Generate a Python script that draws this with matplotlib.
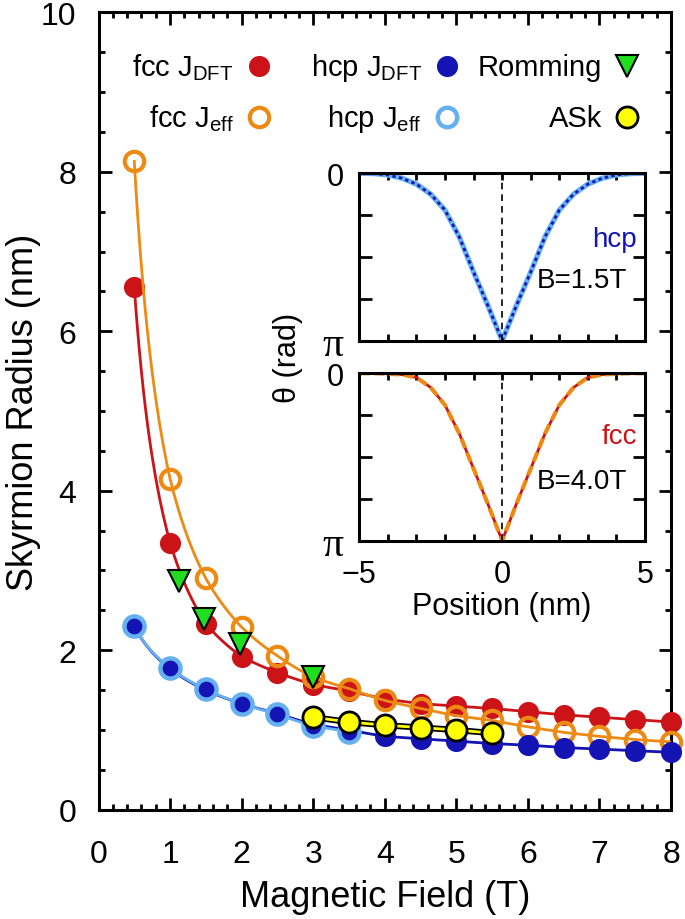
import numpy as np
import matplotlib.pyplot as plt

plt.rcParams['font.family'] = ['Liberation Sans', 'DejaVu Sans']
plt.rcParams['mathtext.fontset'] = 'custom'
plt.rcParams['mathtext.rm'] = 'Liberation Sans'
plt.rcParams['mathtext.it'] = 'Liberation Sans:italic'

# skyrmion radius vs field
field = [0.5, 1.0, 1.5, 2.0, 2.5, 3.0, 3.5, 4.0, 4.5, 5.0, 5.5, 6.0, 6.5, 7.0, 7.5, 8.0]
fcc_dft = [6.55, 3.35, 2.33, 1.92, 1.72, 1.57, 1.49, 1.39, 1.33, 1.30, 1.27, 1.23, 1.19, 1.16, 1.13, 1.10]
fcc_eff = [8.13, 4.15, 2.90, 2.29, 1.93, 1.66, 1.52, 1.37, 1.27, 1.18, 1.12, 1.04, 0.97, 0.92, 0.88, 0.85]
hcp_dft = [2.30, 1.77, 1.50, 1.33, 1.21, 1.07, 1.00, 0.92, 0.89, 0.86, 0.83, 0.81, 0.78, 0.76, 0.74, 0.72]
field_hcp_eff = [0.5, 1.0, 1.5, 2.0, 2.5, 3.0, 3.5]
hcp_eff = [2.30, 1.78, 1.51, 1.33, 1.20, 1.05, 0.98]
field_ask = [3.0, 3.5, 4.0, 4.5, 5.0, 5.5]
ask = [1.16, 1.10, 1.06, 1.03, 1.00, 0.96]
field_romming = [1.12, 1.47, 1.98, 3.0]
romming = [2.87, 2.39, 2.08, 1.67]

# inset profiles, theta in units of pi (left half, mirrored)
pos_half = [-5, -4.5, -4, -3.5, -3, -2.5, -2, -1.5, -1, -0.5, 0]
theta_hcp = [0, 0.002, 0.01, 0.03, 0.065, 0.125, 0.22, 0.38, 0.59, 0.79, 1.0]
theta_fcc = [0, 0.0, 0.003, 0.008, 0.025, 0.085, 0.19, 0.36, 0.57, 0.78, 1.0]

red = '#cc1418'
orange = '#ec8a14'
blue = '#1414b4'
lblue = '#64b0f0'
green = '#1ede1e'
yellow = '#ffff00'


def smooth(x, y, n=300):
    xs = np.linspace(x[0], x[-1], n)
    ys = np.exp(np.interp(np.log(xs), np.log(x), np.log(y)))
    return xs, ys


fig = plt.figure(figsize=(6.85, 9.2), dpi=100)
ax = fig.add_axes([0.1438, 0.1188, 0.8358, 0.8667])

dot = 15.2
ring = 14
ax.plot(*smooth(field, fcc_dft), color=red, lw=2, zorder=2)
ax.plot(field, fcc_dft, 'o', color=red, ms=dot, mew=0, zorder=3, clip_on=False)
ax.plot(*smooth(field, fcc_eff), color=orange, lw=2, zorder=4)
ax.plot(field, fcc_eff, 'o', mfc='none', mec=orange, ms=ring, mew=3, zorder=5, clip_on=False)
ax.plot(*smooth(field, hcp_dft), color=blue, lw=2, zorder=6)
ax.plot(field, hcp_dft, 'o', color=blue, ms=dot, mew=0, zorder=7, clip_on=False)
ax.plot(*smooth(field_hcp_eff, hcp_eff), color=lblue, lw=2, zorder=6.5)
ax.plot(field_hcp_eff, hcp_eff, 'o', mfc='none', mec=lblue, ms=ring + 0.5, mew=3.2, zorder=8)
ax.plot(field_ask, ask, color='black', lw=4.5, zorder=9)
ax.plot(field_ask, ask, color=yellow, lw=2, zorder=9.5)
ax.plot(field_ask, ask, 'o', mfc=yellow, mec='black', ms=dot, mew=2, zorder=10)
ax.plot(field_romming, romming, 'v', mfc=green, mec='black', ms=15.5, mew=1.5, zorder=11)

ax.set_xlim(0, 8)
ax.set_ylim(0, 10)
ax.set_xticks(range(0, 9))
ax.set_xticks(np.arange(0, 8.01, 0.2), minor=True)
ax.set_yticks(range(0, 11, 2))
ax.set_yticks(np.arange(0, 10.01, 0.5), minor=True)
ax.tick_params(which='both', direction='in', top=True, right=True, width=2)
ax.tick_params(which='major', length=9, labelsize=23)
ax.tick_params(which='minor', length=4.5)
ax.tick_params(axis='y', pad=16)
ax.tick_params(axis='x', pad=21)
for s in ax.spines.values():
    s.set_linewidth(2.2)
ax.set_xlabel('Magnetic Field (T)', fontsize=26)
ax.set_ylabel('Skyrmion Radius (nm)', fontsize=26)
ax.xaxis.set_label_coords(0.5, -0.087)
ax.yaxis.set_label_coords(-0.10, 0.5)

# legend drawn by hand so markers line up in columns
cols = [0.2803, 0.6087, 0.9231]
rows = [0.9327, 0.8687]
entries = [
    (cols[0], rows[0], r'fcc J$_{\mathrm{DFT}}$', dict(marker='o', color=red, ms=dot, mew=0)),
    (cols[0], rows[1], r'fcc J$_{\mathrm{eff}}$', dict(marker='o', mfc='none', mec=orange, ms=ring, mew=3)),
    (cols[1], rows[0], r'hcp J$_{\mathrm{DFT}}$', dict(marker='o', color=blue, ms=dot, mew=0)),
    (cols[1], rows[1], r'hcp J$_{\mathrm{eff}}$', dict(marker='o', mfc='none', mec=lblue, ms=ring, mew=3.2)),
    (cols[2], rows[0], 'Romming', dict(marker='v', mfc=green, mec='black', ms=15.5, mew=1.5)),
    (cols[2], rows[1], 'ASk', dict(marker='o', mfc=yellow, mec='black', ms=dot, mew=2)),
]
for xm, ym, label, style in entries:
    ax.plot([xm], [ym], transform=ax.transAxes, linestyle='none', clip_on=False, zorder=12, **style)
    ax.text(xm - 0.044, ym - 0.011, label, transform=ax.transAxes, ha='right', va='baseline', fontsize=21)

# inset panels
ins_top = fig.add_axes([0.5245, 0.6286, 0.4171, 0.1820])
ins_bot = fig.add_axes([0.5245, 0.4112, 0.4171, 0.1820])

pos = np.array(pos_half + [-p for p in pos_half[-2::-1]])
th_hcp = np.pi * np.array(theta_hcp + theta_hcp[-2::-1])
th_fcc = np.pi * np.array(theta_fcc + theta_fcc[-2::-1])

ins_top.plot(pos, th_hcp, color=lblue, lw=3.8)
ins_top.plot(pos, th_hcp, color=blue, lw=2, dashes=(1.2, 1.2))
ins_bot.plot(pos, th_fcc, color=red, lw=2)
ins_bot.plot(pos, th_fcc, color=orange, lw=3, dashes=(2.4, 1.2))

for a in (ins_top, ins_bot):
    a.axvline(0, color='black', lw=1.2, dashes=(4, 3))
    a.set_xlim(-5, 5)
    a.set_ylim(np.pi, 0)
    a.set_xticks([-5, 0, 5])
    a.set_xticks(range(-5, 6), minor=True)
    a.set_yticks(np.arange(5) * np.pi / 4)
    a.set_yticklabels(['0', '', '', '', 'π'])
    a.tick_params(which='both', direction='in', top=True, right=True, width=2, labelsize=22)
    a.tick_params(axis='x', which='both', length=5, pad=13)
    a.tick_params(axis='y', length=9, pad=11)
    for s in a.spines.values():
        s.set_linewidth(2.2)
    pi_label = a.get_yticklabels()[-1]
    pi_label.set_family(['Liberation Serif'])
    pi_label.set_fontsize(30)

ins_top.tick_params(axis='x', labelbottom=False)
ins_bot.set_xticklabels(['\u22125', '0', '5'])
ins_bot.set_xlabel('Position (nm)', fontsize=22)
ins_bot.xaxis.set_label_coords(0.5, -0.30)

ins_top.text(0.972, 0.607, 'hcp', transform=ins_top.transAxes, ha='right', va='center', fontsize=20, color=blue)
ins_top.text(0.937, 0.363, 'B=1.5T', transform=ins_top.transAxes, ha='right', va='center', fontsize=20)
ins_bot.text(0.972, 0.625, 'fcc', transform=ins_bot.transAxes, ha='right', va='center', fontsize=20, color=red)
ins_bot.text(0.937, 0.357, 'B=4.0T', transform=ins_bot.transAxes, ha='right', va='center', fontsize=20)

fig.text(288 / 685, 1 - 358 / 920, 'θ (rad)', rotation=90, ha='center', va='center', fontsize=22)

fig.savefig('out.png', dpi=100)
